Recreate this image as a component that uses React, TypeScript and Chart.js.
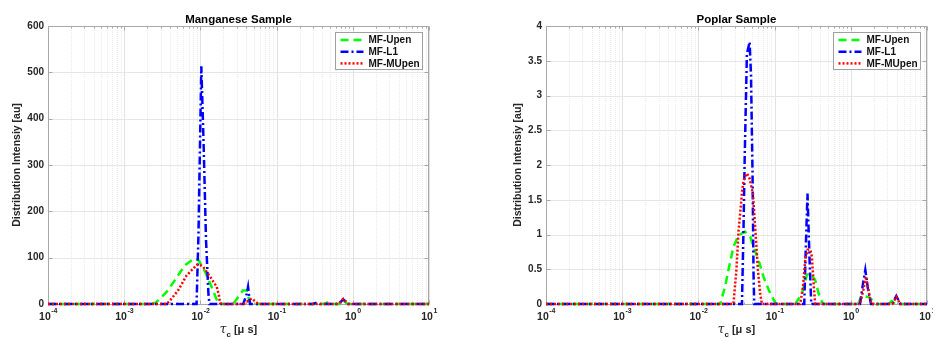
import { useEffect, useRef } from 'react';
import { Chart, registerables } from 'chart.js';

Chart.register(...registerables);

// ---------- series styling ----------
const seriesNames = ['MF-Upen', 'MF-L1', 'MF-MUpen'];
const seriesColors = ['#00ff00', '#0000ff', '#ff0000'];
const seriesDashes = [[8, 5], [8, 3, 2, 3], [2, 2]];

// ---------- axes ----------
const xDecades = [1e-4, 1e-3, 1e-2, 1e-1, 1, 10];
const xDecadeExponents = ['-4', '-3', '-2', '-1', '0', '1'];
const xMinorMultipliers = [2, 3, 4, 5, 6, 7, 8, 9];

const mnTitle = 'Manganese Sample';
const mnYTicks = [0, 100, 200, 300, 400, 500, 600];
const ppTitle = 'Poplar Sample';
const ppYTicks = [0, 0.5, 1, 1.5, 2, 2.5, 3, 3.5, 4];
const yAxisLabel = 'Distribution Intensiy [au]';

// ---------- Manganese data ----------
const mnUpenTau = [1e-4, 2.2e-3, 2.6e-3, 3.6e-3, 4.65e-3, 6.28e-3, 8.3e-3, 9.4e-3, 1.15e-2, 1.4e-2, 1.64e-2, 1.81e-2, 1.9e-2, 2.6e-2, 2.84e-2, 3.6e-2, 4.06e-2, 4.5e-2, 0.42, 0.49, 0.56, 0.68, 0.76, 0.86, 10];
const mnUpenVal = [0, 0, 3, 26, 52, 84, 98, 95, 70, 37, 9, 1, 0, 0, 5, 29, 29, 0, 0, 5, 0, 0, 7, 0, 0];

const mnL1Tau = [1e-4, 8.9e-3, 9.44e-3, 1.028e-2, 1.1e-2, 1.184e-2, 1.276e-2, 1.315e-2, 3.66e-2, 4.05e-2, 4.22e-2, 4.48e-2, 0.3, 0.336, 0.37, 0.65, 0.75, 0.87, 10];
const mnL1Val = [0, 0, 150, 513, 350, 140, 20, 0, 0, 22, 37, 0, 0, 3, 0, 0, 10, 0, 0];

const mnMUpenTau = [1e-4, 3.62e-3, 4.2e-3, 5.13e-3, 6.61e-3, 8.93e-3, 9.6e-3, 1.09e-2, 1.34e-2, 1.64e-2, 1.75e-2, 1.81e-2, 1.9e-2, 3.7e-2, 4.71e-2, 5.76e-2, 0.646, 0.75, 0.873, 10];
const mnMUpenVal = [0, 0, 12, 30, 62, 84, 86, 80, 59, 37, 19, 2, 0, 0, 12, 0, 0, 11, 0, 0];

// ---------- Poplar data ----------
const ppUpenTau = [1e-4, 1.93e-2, 2.24e-2, 2.48e-2, 2.88e-2, 3.36e-2, 4.11e-2, 4.79e-2, 5.29e-2, 6.16e-2, 7.15e-2, 8.75e-2, 0.102, 0.115, 0.187, 0.2286, 0.265, 0.294, 0.341, 0.378, 0.418, 0.45, 1.25, 1.38, 1.72, 1.95, 2.15, 3.1, 3.45, 3.8, 10];
const ppUpenVal = [0, 0, 0.25, 0.49, 0.82, 0.99, 1.04, 0.97, 0.82, 0.63, 0.39, 0.154, 0.02, 0, 0, 0.15, 0.42, 0.44, 0.345, 0.154, 0.03, 0, 0, 0.12, 0.1, 0.05, 0, 0, 0.04, 0, 0];

const ppL1Tau = [1e-4, 3.73e-2, 3.91e-2, 4.05e-2, 4.33e-2, 4.7e-2, 4.9e-2, 5.13e-2, 5.29e-2, 5.4e-2, 0.245, 0.2576, 0.2702, 0.2877, 0.3028, 1.32, 1.45, 1.55, 1.68, 1.84, 3.5, 3.96, 4.47, 10];
const ppL1Val = [0, 0, 1.1, 2.1, 3.6, 3.77, 3.3, 1.9, 0.45, 0, 0, 0.87, 1.59, 0.63, 0, 0, 0.3, 0.49, 0.22, 0, 0, 0.115, 0, 0];

const ppMUpenTau = [1e-4, 2.88e-2, 3.16e-2, 3.36e-2, 3.53e-2, 3.73e-2, 3.91e-2, 4.33e-2, 4.65e-2, 5.19e-2, 5.56e-2, 6.04e-2, 6.47e-2, 6.81e-2, 0.217, 0.2355, 0.2523, 0.272, 0.294, 0.309, 0.3245, 0.341, 1.32, 1.46, 1.58, 1.7, 1.86, 3.5, 3.96, 4.47, 10];
const ppMUpenVal = [0, 0, 0.5, 1.05, 1.3, 1.6, 1.78, 1.88, 1.82, 1.59, 1.11, 0.49, 0.15, 0, 0, 0.25, 0.63, 0.78, 0.78, 0.68, 0.3, 0, 0, 0.2, 0.4, 0.2, 0, 0, 0.1, 0, 0];

const SANS = '"Liberation Sans", Arial, Helvetica, sans-serif';

type PanelCfg = {
  title: string;
  yMax: number;
  yTicks: number[];
  yAxisWidth: number;
  padRight: number;
  yLabelX: number;
  series: { tau: number[]; val: number[] }[];
};

function matlabPlugin(cfg: PanelCfg) {
  return {
    id: 'matlabAxes',
    beforeDatasetsDraw(chart: any) {
      const { ctx, chartArea: a } = chart;
      const xs = chart.scales.x;
      const ys = chart.scales.y;
      ctx.save();
      ctx.lineWidth = 1;
      // minor vertical grid
      ctx.strokeStyle = '#ebebeb';
      ctx.setLineDash([1, 1]);
      for (let i = 0; i < xDecades.length - 1; i++) {
        for (const m of xMinorMultipliers) {
          const px = Math.round(xs.getPixelForValue(xDecades[i] * m)) + 0.5;
          ctx.beginPath();
          ctx.moveTo(px, a.top);
          ctx.lineTo(px, a.bottom);
          ctx.stroke();
        }
      }
      ctx.setLineDash([]);
      // major vertical grid
      ctx.strokeStyle = '#e2e2e2';
      for (const d of xDecades) {
        const px = Math.round(xs.getPixelForValue(d)) + 0.5;
        ctx.beginPath();
        ctx.moveTo(px, a.top);
        ctx.lineTo(px, a.bottom);
        ctx.stroke();
      }
      // horizontal grid
      ctx.strokeStyle = '#e6e6e6';
      for (const v of cfg.yTicks) {
        const py = Math.round(ys.getPixelForValue(v)) + 0.5;
        ctx.beginPath();
        ctx.moveTo(a.left, py);
        ctx.lineTo(a.right, py);
        ctx.stroke();
      }
      // box
      ctx.strokeStyle = '#a8a8a8';
      const L = Math.round(a.left) + 0.5;
      const R = Math.round(a.right) - 0.5;
      const T = Math.round(a.top) + 0.5;
      const B = Math.round(a.bottom) + 0.5;
      ctx.strokeRect(L, T, R - L, B - T);
      // inward tick marks
      ctx.beginPath();
      for (const v of cfg.yTicks) {
        const py = Math.round(ys.getPixelForValue(v)) + 0.5;
        ctx.moveTo(L, py);
        ctx.lineTo(L + 4, py);
        ctx.moveTo(R, py);
        ctx.lineTo(R - 4, py);
      }
      for (const d of xDecades) {
        const px = Math.round(xs.getPixelForValue(d)) + 0.5;
        ctx.moveTo(px, B);
        ctx.lineTo(px, B - 4);
        ctx.moveTo(px, T);
        ctx.lineTo(px, T + 4);
      }
      for (let i = 0; i < xDecades.length - 1; i++) {
        for (const m of xMinorMultipliers) {
          const px = Math.round(xs.getPixelForValue(xDecades[i] * m)) + 0.5;
          ctx.moveTo(px, B);
          ctx.lineTo(px, B - 2);
          ctx.moveTo(px, T);
          ctx.lineTo(px, T + 2);
        }
      }
      ctx.stroke();
      ctx.restore();
    },
    afterDraw(chart: any) {
      const { ctx, chartArea: a } = chart;
      const xs = chart.scales.x;
      ctx.save();
      ctx.fillStyle = '#262626';
      // x tick labels 10^n
      ctx.textBaseline = 'alphabetic';
      ctx.textAlign = 'left';
      xDecades.forEach((d, i) => {
        const px = xs.getPixelForValue(d);
        ctx.font = `bold 10.5px ${SANS}`;
        const w10 = ctx.measureText('10').width;
        ctx.font = `bold 7px ${SANS}`;
        const wE = ctx.measureText(xDecadeExponents[i]).width;
        const start = px - (w10 + wE) / 2;
        ctx.font = `bold 10.5px ${SANS}`;
        ctx.fillText('10', start, 320);
        ctx.font = `bold 7px ${SANS}`;
        ctx.fillText(xDecadeExponents[i], start + w10 + 0.5, 313);
      });
      // title
      const cx = (a.left + a.right) / 2;
      ctx.fillStyle = '#000';
      ctx.textAlign = 'center';
      ctx.font = `bold 11.5px ${SANS}`;
      ctx.fillText(cfg.title, cx, 23);
      // y label
      ctx.fillStyle = '#262626';
      ctx.save();
      ctx.translate(cfg.yLabelX, (a.top + a.bottom) / 2);
      ctx.rotate(-Math.PI / 2);
      ctx.textBaseline = 'middle';
      ctx.font = `bold 10.5px ${SANS}`;
      ctx.fillText(yAxisLabel, 0, 0);
      ctx.restore();
      // x label: tau_c [mu s]
      ctx.textAlign = 'left';
      ctx.textBaseline = 'alphabetic';
      const tauFont = `italic 12px "DejaVu Serif", serif`;
      const subFont = `bold 8px ${SANS}`;
      const restFont = `bold 11px ${SANS}`;
      ctx.font = tauFont;
      const wT = ctx.measureText('τ').width;
      ctx.font = subFont;
      const wS = ctx.measureText('c').width;
      ctx.font = restFont;
      const rest = ' [μ s]';
      const wR = ctx.measureText(rest).width;
      let sx = cx - (wT + wS + wR) / 2;
      ctx.font = tauFont;
      ctx.fillText('τ', sx, 333);
      sx += wT;
      ctx.font = subFont;
      ctx.fillText('c', sx, 337);
      sx += wS;
      ctx.font = restFont;
      ctx.fillText(rest, sx, 333);
      // legend
      const bw = 87;
      const bh = 37;
      const bx = Math.round(a.right - 7 - bw) + 0.5;
      const by = Math.round(a.top + 6) + 0.5;
      ctx.fillStyle = '#ffffff';
      ctx.fillRect(bx, by, bw, bh);
      ctx.strokeStyle = '#a0a0a0';
      ctx.lineWidth = 1;
      ctx.strokeRect(bx, by, bw, bh);
      seriesNames.forEach((name, i) => {
        const ry = by + 7.5 + i * 11.7;
        ctx.strokeStyle = seriesColors[i];
        ctx.lineWidth = 2.5;
        ctx.setLineDash(seriesDashes[i]);
        ctx.beginPath();
        ctx.moveTo(bx + 5, ry);
        ctx.lineTo(bx + 28, ry);
        ctx.stroke();
        ctx.setLineDash([]);
        ctx.fillStyle = '#111';
        ctx.font = `bold 10px ${SANS}`;
        ctx.textBaseline = 'middle';
        ctx.fillText(name, bx + 33, ry + 0.5);
      });
      ctx.restore();
    },
  };
}

function makeChart(canvas: HTMLCanvasElement, cfg: PanelCfg) {
  const datasets = cfg.series.map((s, i) => ({
    label: seriesNames[i],
    data: s.tau.map((x, j) => ({ x, y: s.val[j] })),
    borderColor: seriesColors[i],
    backgroundColor: seriesColors[i],
    borderDash: seriesDashes[i],
    borderWidth: 2.5,
    pointRadius: 0,
    tension: 0,
    fill: false,
    clip: 4,
    order: 2 - i,
  }));
  return new Chart(canvas, {
    type: 'line',
    data: { datasets } as any,
    options: {
      animation: false,
      responsive: false,
      devicePixelRatio: 1,
      events: [],
      layout: { padding: { left: 0, right: cfg.padRight, top: 26, bottom: 0 } },
      plugins: {
        legend: { display: false },
        tooltip: { enabled: false },
        title: { display: false },
      },
      scales: {
        x: {
          type: 'logarithmic',
          min: 1e-4,
          max: 10,
          grid: { display: false, drawTicks: false },
          border: { display: false },
          ticks: { display: false },
          afterFit: (s: any) => {
            s.height = 34;
          },
        },
        y: {
          type: 'linear',
          min: 0,
          max: cfg.yMax,
          grid: { display: false, drawTicks: false },
          border: { display: false },
          afterBuildTicks: (s: any) => {
            s.ticks = cfg.yTicks.map((v) => ({ value: v }));
          },
          ticks: {
            padding: 4,
            color: '#262626',
            font: { family: SANS, size: 10, weight: 'bold' },
            callback: (v: any) => String(v),
          },
          afterFit: (s: any) => {
            s.width = cfg.yAxisWidth;
          },
        },
      },
    } as any,
    plugins: [matlabPlugin(cfg)],
  });
}

export default function App() {
  const leftRef = useRef<HTMLCanvasElement>(null);
  const rightRef = useRef<HTMLCanvasElement>(null);

  useEffect(() => {
    const c1 = makeChart(leftRef.current!, {
      title: mnTitle,
      yMax: 600,
      yTicks: mnYTicks,
      yAxisWidth: 48,
      padRight: 37,
      yLabelX: 17.5,
      series: [
        { tau: mnUpenTau, val: mnUpenVal },
        { tau: mnL1Tau, val: mnL1Val },
        { tau: mnMUpenTau, val: mnMUpenVal },
      ],
    });
    const c2 = makeChart(rightRef.current!, {
      title: ppTitle,
      yMax: 4,
      yTicks: ppYTicks,
      yAxisWidth: 80,
      padRight: 19,
      yLabelX: 52.3,
      series: [
        { tau: ppUpenTau, val: ppUpenVal },
        { tau: ppL1Tau, val: ppL1Val },
        { tau: ppMUpenTau, val: ppMUpenVal },
      ],
    });
    return () => {
      c1.destroy();
      c2.destroy();
    };
  }, []);

  return (
    <div
      style={{
        position: 'fixed',
        left: 0,
        top: 0,
        width: 933,
        height: 338,
        overflow: 'hidden',
        background: '#ffffff',
      }}
    >
      <canvas ref={leftRef} width={466} height={338} style={{ position: 'absolute', left: 0, top: 0, width: 466, height: 338 }} />
      <canvas ref={rightRef} width={480} height={338} style={{ position: 'absolute', left: 466, top: 0, width: 480, height: 338 }} />
    </div>
  );
}
